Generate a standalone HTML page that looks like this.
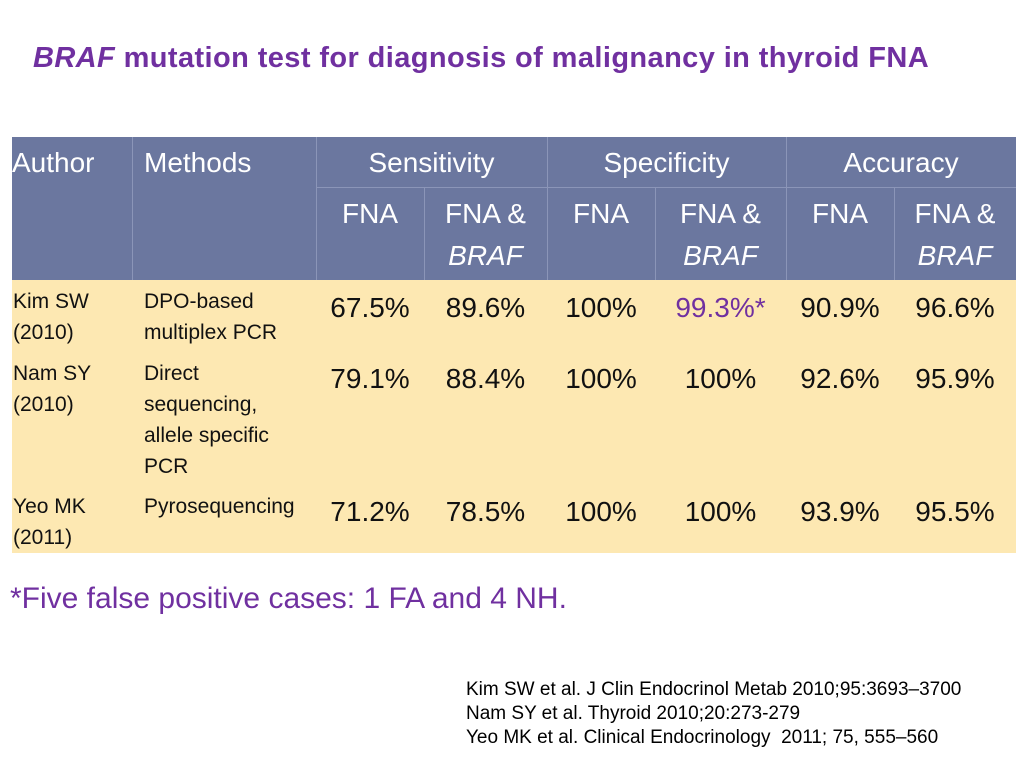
<!DOCTYPE html>
<html><head><meta charset="utf-8"><style>
body{margin:0;width:1024px;height:768px;background:#fff;position:relative;overflow:hidden;font-family:"Liberation Sans",sans-serif}
.a{position:absolute;white-space:nowrap}
.h{color:#fff;font-size:28px;text-align:center}
.s{font-size:21px;color:#111;line-height:31px}
.v{font-size:28px;color:#111;text-align:center}
.vl{position:absolute;background:#8b95b8;width:1px}
</style></head><body>
<div class="a" style="left:33px;top:42px;font-size:29px;font-weight:bold;color:#7030a0;letter-spacing:0.4px"><i>BRAF</i> mutation test for diagnosis of malignancy in thyroid FNA</div>

<div class="a" style="left:12px;top:137px;width:1004px;height:143px;background:#6b779f"></div>
<div class="a" style="left:12px;top:280px;width:1004px;height:273px;background:#fde8b2"></div>
<div class="vl" style="left:132px;top:137px;height:143px"></div>
<div class="vl" style="left:316px;top:137px;height:143px"></div>
<div class="vl" style="left:547px;top:137px;height:143px"></div>
<div class="vl" style="left:786px;top:137px;height:143px"></div>
<div class="vl" style="left:424px;top:187px;height:93px"></div>
<div class="vl" style="left:655px;top:187px;height:93px"></div>
<div class="vl" style="left:894px;top:187px;height:93px"></div>
<div class="a" style="left:316px;top:187px;width:700px;height:1px;background:#8b95b8"></div>

<div class="a h" style="left:12px;top:147px">Author</div>
<div class="a h" style="left:144px;top:147px">Methods</div>
<div class="a h" style="left:316px;top:147px;width:231px">Sensitivity</div>
<div class="a h" style="left:547px;top:147px;width:239px">Specificity</div>
<div class="a h" style="left:786px;top:147px;width:230px">Accuracy</div>

<div class="a h" style="left:316px;top:198px;width:108px">FNA</div>
<div class="a h" style="left:424px;top:193px;width:123px;line-height:42px">FNA &amp;<br><i>BRAF</i></div>
<div class="a h" style="left:547px;top:198px;width:108px">FNA</div>
<div class="a h" style="left:655px;top:193px;width:131px;line-height:42px">FNA &amp;<br><i>BRAF</i></div>
<div class="a h" style="left:786px;top:198px;width:108px">FNA</div>
<div class="a h" style="left:894px;top:193px;width:122px;line-height:42px">FNA &amp;<br><i>BRAF</i></div>

<div class="a s" style="left:13px;top:286px">Kim SW<br>(2010)</div>
<div class="a s" style="left:144px;top:286px">DPO-based<br>multiplex PCR</div>
<div class="a s" style="left:13px;top:358px">Nam SY<br>(2010)</div>
<div class="a s" style="left:144px;top:358px">Direct<br>sequencing,<br>allele specific<br>PCR</div>
<div class="a s" style="left:13px;top:491px">Yeo MK<br>(2011)</div>
<div class="a s" style="left:144px;top:491px">Pyrosequencing</div>

<div id="vals"></div>

<div class="a" style="left:10px;top:582px;font-size:30px;color:#7030a0">*Five false positive cases: 1 FA and 4 NH.</div>
<div class="a" style="left:466px;top:678px;font-size:19px;line-height:24px;color:#000">Kim SW et al. J Clin Endocrinol Metab 2010;95:3693–3700<br>Nam SY et al. Thyroid 2010;20:273-279<br>Yeo MK et al. Clinical Endocrinology&nbsp; 2011; 75, 555–560</div>

<script>
const kim=["67.5%","89.6%","100%","99.3%*","90.9%","96.6%"];
const nam=["79.1%","88.4%","100%","100%","92.6%","95.9%"];
const yeo=["71.2%","78.5%","100%","100%","93.9%","95.5%"];
const cols=[[316,108],[424,123],[547,108],[655,131],[786,108],[894,122]];
const rows=[[kim,292,'kim'],[nam,363,'nam'],[yeo,496,'yeo']];
const host=document.getElementById('vals');
rows.forEach(r=>{r[0].forEach((t,i)=>{
 const d=document.createElement('div');
 d.className='a v';
 
 
 d.style.left=cols[i][0]+'px';d.style.width=cols[i][1]+'px';d.style.top=r[1]+'px';
 if(t.indexOf('*')>=0)d.style.color='#7030a0';
 d.textContent=t;host.appendChild(d);});});
</script>
</body></html>
